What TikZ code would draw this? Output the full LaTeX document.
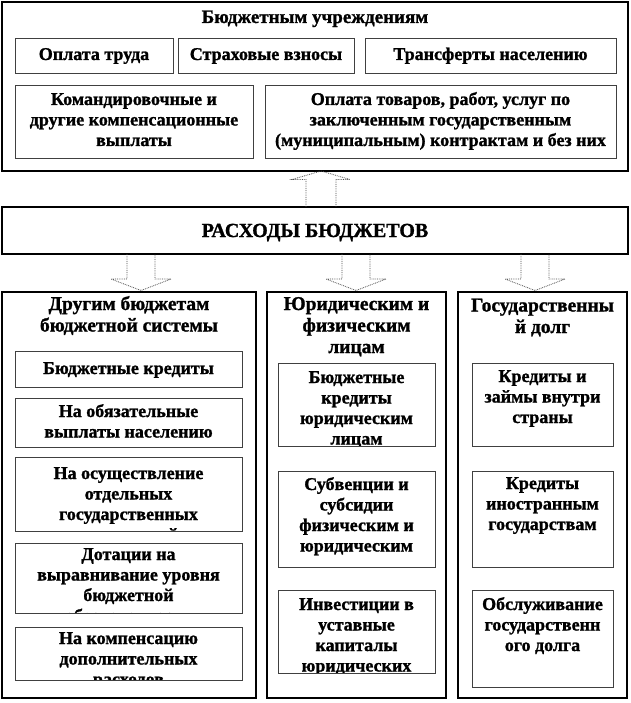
\documentclass[tikz,border=0pt]{standalone}
\usepackage{fontspec}
\setmainfont{Liberation Serif}[BoldFeatures={FakeBold=1.2}]
\usetikzlibrary{calc}
\newcommand\Bx[6]{%
  \node[#6, minimum width={(#4)-(#2)}, minimum height={(#5)-(#3)}] (#1) at ({((#2)+(#4))/2},{((#3)+(#5))/2}) {};}
\newcommand\IB[7]{%
  \node[innerbox, minimum width={(#4)-(#2)}, minimum height={(#5)-(#3)}] (#1) at ({((#2)+(#4))/2},{((#3)+(#5))/2}) {};
  \begin{scope}
    \clip ([shift={(0.5pt,0.5pt)}]#1.south west) rectangle ([shift={(-0.5pt,-0.5pt)}]#1.north east);
    \node[txt] (#1t) at ({((#2)+(#4))/2},{(#6)-15}) {\rule{0pt}{15pt}#7};
  \end{scope}}
\begin{document}
\begin{tikzpicture}[x=1pt,y=-1pt,
  outerbox/.style={draw=black, line width=1.6pt, inner sep=0pt, outer sep=0pt},
  innerbox/.style={draw=black!75, line width=1pt, inner sep=0pt, outer sep=0pt},
  txt/.style={font=\bfseries\fontsize{18}{20.5}\selectfont, align=center, inner sep=0pt, outer sep=0pt, anchor=north},
  ttl/.style={txt, font=\bfseries\fontsize{19.5}{21.5}\selectfont},
  blockarrow/.style={draw=black!70, densely dotted, line width=0.8pt, line join=miter}]
\fill[white] (0,0) rectangle (630,703);
\useasboundingbox (0,0) rectangle (630,703);

% top block
\Bx{top}{2}{2}{628}{171}{outerbox}
\node[ttl, font=\bfseries\fontsize{19}{21.5}\selectfont] (topt) at (315,{23-15}) {\rule{0pt}{15pt}Бюджетным учреждениям};
\IB{A1}{15}{39}{173}{74}{60}{Оплата труда}
\IB{A2}{178}{39}{354}{74}{60}{Страховые взносы}
\IB{A3}{365}{39}{616}{74}{60}{Трансферты населению}
\IB{B1}{15}{86}{253}{159}{105}{Командировочные и\\другие компенсационные\\выплаты}
\IB{B2}{265}{86}{616}{159}{105}{Оплата товаров, работ, услуг по\\заключенным государственным\\(муниципальным) контрактам и без них}

% central block
\Bx{rash}{2}{207}{628}{254}{outerbox}
\node[ttl, font=\bfseries\fontsize{20}{22}\selectfont] (rasht) at (315,{237-15}) {\rule{0pt}{15pt}РАСХОДЫ БЮДЖЕТОВ};

% columns
\Bx{C1}{2}{292}{256}{698}{outerbox}
\Bx{C2}{267}{292}{446}{698}{outerbox}
\Bx{C3}{458}{292}{627}{698}{outerbox}
\node[ttl] (C1t) at (C1.north |- 0,{310-15}) {\rule{0pt}{15pt}Другим бюджетам\\бюджетной системы};
\node[ttl] (C2t) at (C2.north |- 0,{310-15}) {\rule{0pt}{15pt}Юридическим и\\физическим\\лицам};
\node[ttl] (C3t) at (C3.north |- 0,{311.5-15}) {\rule{0pt}{15pt}Государственны\\й долг};

\IB{L1}{15}{351}{242}{387}{374}{Бюджетные кредиты}
\IB{L2}{15}{398}{242}{447}{417}{На обязательные\\выплаты населению}
\IB{L3}{15}{457}{242}{531}{479}{На осуществление\\отдельных\\государственных\\полномочий}
\IB{L4}{15}{543}{242}{613}{560}{Дотации на\\выравнивание уровня\\бюджетной\\обеспеченности}
\IB{L5}{15}{627}{242}{680}{644}{На компенсацию\\дополнительных\\расходов}

\IB{M1}{278}{363}{435}{446}{383}{Бюджетные\\кредиты\\юридическим\\лицам}
\IB{M2}{278}{471}{435}{567}{490}{Субвенции и\\субсидии\\физическим и\\юридическим}
\IB{M3}{278}{590}{435}{673}{610}{Инвестиции в\\уставные\\капиталы\\юридических}

\IB{R1}{472}{363}{613}{446}{382}{Кредиты и\\займы внутри\\страны}
\IB{R2}{472}{471}{613}{567}{489}{Кредиты\\иностранным\\государствам}
\IB{R3}{472}{590}{613}{687}{610}{Обслуживание\\государственн\\ого долга}

% up arrow: rash -> top
\coordinate (upS) at (rash.north -| 321,0);
\coordinate (upT) at (upS |- top.south);
\draw[blockarrow] ($(upS)+(-15,0)$) -- ($(upT)+(-15,8.5)$) -- ($(upT)+(-29,8.5)$) -- (upT)
  -- ($(upT)+(29,8.5)$) -- ($(upT)+(15,8.5)$) -- ($(upS)+(15,0)$);

% down arrows: rash -> columns
\foreach \c/\xx in {C1/141, C2/356, C3/535}{
  \coordinate (dS\c) at (rash.south -| \xx,0);
  \coordinate (dT\c) at ($(dS\c |- \c.north)+(0,-1.5)$);
  \draw[blockarrow] ($(dS\c)+(-14,0)$) -- ($(dT\c)+(-14,-11.5)$) -- ($(dT\c)+(-30,-11.5)$) -- (dT\c)
    -- ($(dT\c)+(30,-11.5)$) -- ($(dT\c)+(14,-11.5)$) -- ($(dS\c)+(14,0)$);
}
\end{tikzpicture}
\end{document}
